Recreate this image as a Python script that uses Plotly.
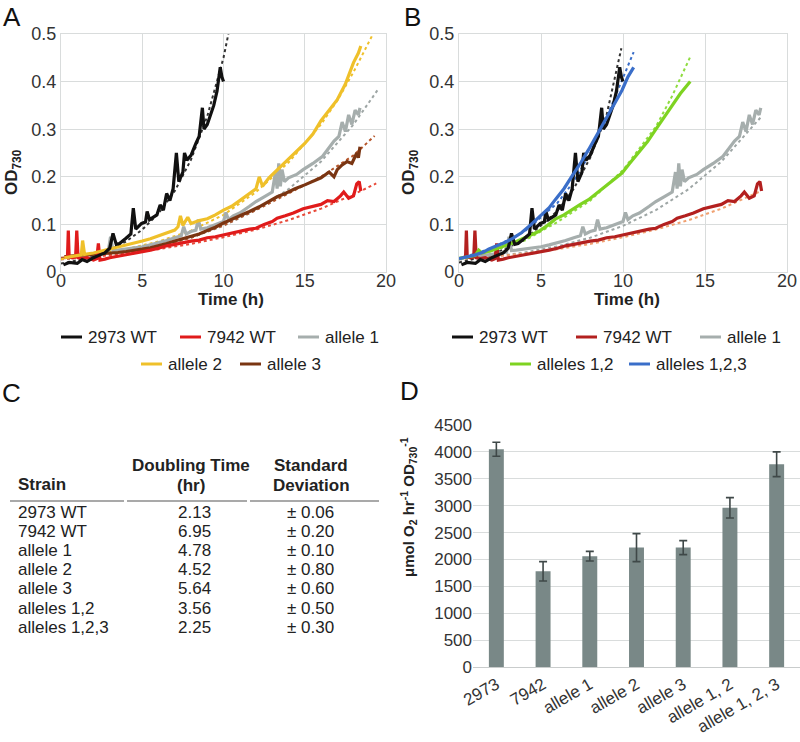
import plotly.graph_objects as go

W, H = 800, 742
FONT = "Liberation Sans, Arial, sans-serif"

# ---------------- growth curve data (time h, OD730) ----------------
t_2973 = [0.15,0.5,1.0,1.3,1.6,2.0,2.4,2.7,3.0,3.2,3.4,3.6,4.0,4.3,4.45,4.6,4.96,5.2,5.3,5.45,5.9,6.1,6.3,6.5,6.7,
          6.9,7.1,7.25,7.5,7.6,7.75,8.0,8.3,8.5,8.7,8.8,9.0,9.2,9.4,9.6,9.8,9.9,10.0]
od_2973 = [0.015,0.02,0.018,0.026,0.022,0.03,0.036,0.04,0.05,0.081,0.058,0.06,0.071,0.08,0.134,0.09,0.102,0.105,0.127,0.11,
           0.12,0.141,0.13,0.165,0.15,0.175,0.25,0.19,0.21,0.25,0.235,0.245,0.27,0.285,0.345,0.3,0.31,0.33,0.35,0.38,0.43,0.41,0.4]

t_7942 = [0.2,0.4,0.45,0.5,0.7,0.9,0.97,1.05,1.3,1.6,2.0,2.2,2.3,2.4,2.7,3.0,3.5,4.0,4.5,5.0,5.5,6.0,6.5,7.0,7.5,8.0,8.5,
          9.0,9.5,10.0,10.5,11.0,11.6,12.0,12.5,13.0,13.3,13.8,14.3,14.9,15.5,16.0,16.4,16.8,17.2,17.4,17.7,18.0,18.2,18.35,18.45]
od_7942 = [0.03,0.032,0.087,0.032,0.03,0.032,0.087,0.03,0.028,0.03,0.025,0.028,0.06,0.025,0.027,0.03,0.033,0.036,0.04,0.042,
           0.046,0.05,0.055,0.058,0.062,0.065,0.067,0.072,0.074,0.078,0.082,0.086,0.09,0.092,0.1,0.106,0.113,0.118,0.124,0.133,
           0.138,0.142,0.15,0.148,0.16,0.168,0.155,0.16,0.185,0.19,0.17]

t_a1 = [0.2,0.6,1.0,1.5,2.0,2.5,2.9,3.05,3.2,3.5,4.0,4.5,5.0,5.5,6.0,6.5,7.0,7.4,7.55,7.7,8.0,8.3,8.45,8.6,9.0,9.5,10.0,
        10.15,10.3,10.6,11.0,11.6,12.0,12.5,13.0,13.2,13.3,13.4,13.5,13.6,13.75,14.0,14.5,14.9,15.5,16.1,16.5,16.8,17.1,
        17.3,17.5,17.7,17.9,18.1,18.3,18.4]
od_a1 = [0.03,0.032,0.033,0.035,0.037,0.04,0.042,0.074,0.045,0.046,0.048,0.05,0.053,0.057,0.061,0.066,0.072,0.076,0.095,
         0.08,0.085,0.088,0.11,0.09,0.093,0.1,0.106,0.125,0.11,0.118,0.124,0.138,0.148,0.158,0.168,0.21,0.175,0.228,0.18,
         0.215,0.19,0.198,0.205,0.215,0.228,0.243,0.26,0.275,0.285,0.315,0.295,0.33,0.31,0.34,0.33,0.345]

t_a2 = [0.2,0.6,1.0,1.25,1.33,1.45,2.0,2.5,3.0,3.5,4.0,4.5,5.0,5.5,6.0,6.5,7.0,7.2,7.35,7.5,7.8,8.0,8.5,9.0,9.5,10.0,
        10.5,11.0,11.6,12.0,12.2,12.4,12.8,13.3,13.8,14.3,15.0,15.5,16.0,16.5,17.0,17.5,18.0,18.3,18.45]
od_a2 = [0.03,0.032,0.034,0.036,0.066,0.037,0.04,0.044,0.048,0.052,0.056,0.06,0.065,0.07,0.076,0.082,0.088,0.095,0.118,
         0.098,0.115,0.102,0.108,0.112,0.12,0.13,0.138,0.15,0.165,0.175,0.2,0.18,0.198,0.214,0.232,0.248,0.27,0.29,0.318,
         0.34,0.362,0.395,0.44,0.46,0.475]

t_a3 = [0.2,0.6,1.0,1.5,2.0,2.5,3.0,3.5,4.0,4.5,5.0,5.5,6.0,6.5,7.0,7.5,8.0,8.5,9.0,9.5,10.0,10.5,11.0,11.6,12.2,12.7,
        13.3,13.8,14.4,15.0,15.5,16.0,16.5,16.8,17.0,17.3,17.6,17.9,18.2,18.3,18.4]
od_a3 = [0.032,0.034,0.035,0.036,0.037,0.038,0.04,0.041,0.043,0.045,0.048,0.051,0.055,0.06,0.065,0.07,0.075,0.08,0.087,
         0.094,0.103,0.11,0.118,0.127,0.137,0.147,0.158,0.165,0.175,0.183,0.19,0.198,0.21,0.2,0.215,0.225,0.232,0.228,
         0.25,0.24,0.263]

t_a12 = [0.0,0.5,1.0,1.2,1.4,2.0,2.5,3.0,3.5,3.83,4.3,4.85,5.4,5.87,6.4,6.88,7.4,7.9,8.4,8.92,9.4,9.94,10.4,10.95,11.5,
         11.97,12.5,13.0,13.5,14.1]
od_a12 = [0.028,0.032,0.035,0.046,0.04,0.045,0.052,0.058,0.064,0.069,0.076,0.085,0.098,0.111,0.12,0.131,0.142,0.152,0.166,
          0.18,0.193,0.208,0.228,0.25,0.274,0.298,0.325,0.35,0.375,0.4]

t_a123 = [0.0,0.5,1.0,1.5,1.8,2.3,2.8,3.3,3.83,4.4,5.05,5.5,5.87,6.4,6.88,7.4,7.9,8.4,8.92,9.4,9.94,10.3,10.65]
od_a123 = [0.028,0.032,0.036,0.042,0.048,0.055,0.062,0.071,0.083,0.1,0.121,0.135,0.152,0.175,0.201,0.228,0.257,0.288,
           0.319,0.35,0.382,0.41,0.43]

# ---------------- exponential trend lines ----------------
tr_t_2973A = [0,1,2,3,4,5,6,7,8,9,10,10.3]
tr_od_2973A = [0.018,0.024,0.033,0.046,0.064,0.089,0.123,0.17,0.236,0.327,0.45,0.5]
tr_t_7942 = [0,2,4,6,8,10,12,14,16,18,19.4]
tr_od_7942 = [0.027,0.032,0.039,0.048,0.059,0.073,0.089,0.109,0.133,0.163,0.186]
tr_t_a1 = [0,2,4,6,8,10,12,14,16,18,19.5]
tr_od_a1 = [0.026,0.032,0.041,0.054,0.072,0.097,0.13,0.174,0.232,0.31,0.383]
tr_t_a2 = [0,2,4,6,8,10,12,14,16,17,18,19.2]
tr_od_a2 = [0.027,0.036,0.048,0.064,0.087,0.12,0.168,0.23,0.31,0.36,0.42,0.5]
tr_t_a3 = [0,2,4,6,8,10,12,14,16,18,19.3]
tr_od_a3 = [0.03,0.034,0.042,0.053,0.072,0.098,0.13,0.165,0.2,0.245,0.286]

tr_t_2973B = [0,2,4,6,7,8,9,9.9]
tr_od_2973B = [0.02,0.036,0.068,0.128,0.175,0.24,0.33,0.47]
tr_t_7942B = [0,2,4,6,8,10,12,14,16,18,18.4]
tr_od_7942B = [0.027,0.032,0.039,0.048,0.059,0.073,0.089,0.109,0.133,0.163,0.17]
tr_t_a1B = [0,2,4,6,8,10,12,14,16,18,18.4]
tr_od_a1B = [0.026,0.032,0.041,0.054,0.072,0.097,0.13,0.174,0.232,0.31,0.325]
tr_t_a12 = [0,2,4,6,8,10,12,13,14.1]
tr_od_a12 = [0.03,0.044,0.066,0.105,0.15,0.214,0.305,0.37,0.452]
tr_t_a123 = [0,2,4,6,7,8,9,10,10.65]
tr_od_a123 = [0.028,0.05,0.085,0.145,0.19,0.25,0.325,0.41,0.462]

# ---------------- table C ----------------
tbl_strains = ["2973 WT", "7942 WT", "allele 1", "allele 2", "allele 3", "alleles 1,2", "alleles 1,2,3"]
tbl_doubling = ["2.13", "6.95", "4.78", "4.52", "5.64", "3.56", "2.25"]
tbl_sd = ["0.06", "0.20", "0.10", "0.80", "0.60", "0.50", "0.30"]

# ---------------- panel D ----------------
d_cats = ["2973", "7942", "allele 1", "allele 2", "allele 3", "allele 1, 2", "allele 1, 2, 3"]
d_vals = [4050, 1780, 2060, 2220, 2220, 2960, 3770]
d_err = [130, 180, 90, 260, 130, 190, 230]

# colours
C_BLACK = "#111111"
C_RED_A = "#e01b1b"
C_RED_B = "#b3201f"
C_GRAY = "#a6aead"
C_YEL = "#efc02a"
C_BROWN = "#7a3512"
C_GREEN = "#7ed321"
C_BLUE = "#3a6ec9"

def px_x(p):
    return p / W

def px_y(p):
    return 1 - p / H

fig = go.Figure()

def add_line(x, y, color, xa, ya, width=3.2, dash=None):
    fig.add_trace(go.Scatter(x=x, y=y, mode="lines", xaxis=xa, yaxis=ya, showlegend=False, hoverinfo="skip",
                             line=dict(color=color, width=width, dash=dash or "solid")))

# Panel A: trends then data
add_line(tr_t_a1, tr_od_a1, "#9ea6a5", "x", "y", 2, "dot")
add_line(tr_t_a3, tr_od_a3, "#b5552a", "x", "y", 2, "dot")
add_line(tr_t_7942, tr_od_7942, "#e84a3a", "x", "y", 2, "dot")
add_line(tr_t_a2, tr_od_a2, "#efc02a", "x", "y", 2, "dot")
add_line(tr_t_2973A, tr_od_2973A, "#333333", "x", "y", 2, "dot")
add_line(t_a1, od_a1, C_GRAY, "x", "y")
add_line(t_a3, od_a3, C_BROWN, "x", "y")
add_line(t_7942, od_7942, C_RED_A, "x", "y")
add_line(t_a2, od_a2, C_YEL, "x", "y")
add_line(t_2973, od_2973, C_BLACK, "x", "y")

# Panel B
add_line(tr_t_a1B, tr_od_a1B, "#9ea6a5", "x2", "y2", 2, "dot")
add_line(tr_t_7942B, tr_od_7942B, "#f0a070", "x2", "y2", 2, "dot")
add_line(tr_t_a12, tr_od_a12, "#8fdc40", "x2", "y2", 2, "dot")
add_line(tr_t_a123, tr_od_a123, C_BLUE, "x2", "y2", 2, "dot")
add_line(tr_t_2973B, tr_od_2973B, "#333333", "x2", "y2", 2, "dot")
add_line(t_a1, od_a1, C_GRAY, "x2", "y2")
add_line(t_7942, od_7942, C_RED_B, "x2", "y2")
add_line(t_a12, od_a12, C_GREEN, "x2", "y2")
add_line(t_2973, od_2973, C_BLACK, "x2", "y2")
add_line(t_a123, od_a123, C_BLUE, "x2", "y2")

# Panel D bars
fig.add_trace(go.Bar(x=d_cats, y=d_vals, xaxis="x3", yaxis="y3", showlegend=False, hoverinfo="skip",
                     marker=dict(color="#798887", line=dict(width=0)),
                     error_y=dict(type="data", array=d_err, visible=True, color="#3f4848", thickness=1.6, width=4)))

grid = "#d9dcdc"
tickfont = dict(family=FONT, size=18, color="#333333")
line_ax = dict(showgrid=True, gridcolor=grid, gridwidth=1.3, showline=True, linecolor=grid, linewidth=1.3,
               mirror=True, zeroline=False, ticks="", ticklen=0, tickfont=tickfont, automargin=False)

ydomA = [px_y(272), px_y(34)]
fig.update_layout(
    width=W, height=H, margin=dict(l=0, r=0, t=0, b=0, autoexpand=False),
    paper_bgcolor="white", plot_bgcolor="white", bargap=0.68,
    xaxis=dict(domain=[px_x(61), px_x(386)], range=[0, 20], dtick=5, anchor="y", ticklabelstandoff=-8, **line_ax),
    yaxis=dict(domain=ydomA, range=[0, 0.5], dtick=0.1, anchor="x", tickformat="~g", **line_ax),
    xaxis2=dict(domain=[px_x(459), px_x(787)], range=[0, 20], dtick=5, anchor="y2", ticklabelstandoff=-8, **line_ax),
    yaxis2=dict(domain=ydomA, range=[0, 0.5], dtick=0.1, anchor="x2", tickformat="~g", **line_ax),
    xaxis3=dict(domain=[px_x(473), px_x(800)], anchor="y3", showgrid=False, showline=True, linecolor="#c9cccc",
                linewidth=1.3, ticks="", ticklen=0, tickangle=-30, automargin=False,
                tickfont=dict(family=FONT, size=17, color="#333333")),
    yaxis3=dict(domain=[px_y(667), px_y(425)], range=[0, 4500], dtick=500, anchor="x3", showgrid=True,
                gridcolor=grid, gridwidth=1.3, showline=False, zeroline=False, ticks="", ticklen=0, automargin=False,
                tickfont=dict(family=FONT, size=17, color="#333333")),
)

ann = []
def text(x, y, s, size=17, bold=False, xanchor="center", yanchor="middle", angle=0, color="#222222"):
    if bold:
        s = "<b>" + s + "</b>"
    ann.append(dict(x=px_x(x), y=px_y(y), xref="paper", yref="paper", text=s, showarrow=False,
                    xanchor=xanchor, yanchor=yanchor, textangle=angle,
                    font=dict(family=FONT, size=size, color=color)))

# panel letters
text(12, 17, "A", size=26, color="#111111")
text(412, 17, "B", size=26, color="#111111")
text(11, 393, "C", size=26, color="#111111")
text(410, 391, "D", size=26, color="#111111")

# axis titles
text(231, 299, "Time (h)", size=17, bold=True)
text(627, 299, "Time (h)", size=17, bold=True)
text(13, 172, "OD<sub>730</sub>", size=17, bold=True, angle=-90)
text(410, 172, "OD<sub>730</sub>", size=17, bold=True, angle=-90)
text(408, 507, "μmol O<sub>2</sub> hr<sup>-1</sup> OD<sub>730</sub><sup>-1</sup>", size=15, bold=True, angle=-90)

shapes = []
def legend_item(x0, y, color, label):
    shapes.append(dict(type="line", xref="paper", yref="paper", x0=px_x(x0), x1=px_x(x0 + 21),
                       y0=px_y(y), y1=px_y(y), line=dict(color=color, width=3)))
    text(x0 + 25, y, label, size=17, xanchor="left", color="#222222")

# legend A
legend_item(61, 337, C_BLACK, "2973 WT")
legend_item(180, 337, C_RED_A, "7942 WT")
legend_item(298, 337, C_GRAY, "allele 1")
legend_item(141, 364, C_YEL, "allele 2")
legend_item(240, 364, C_BROWN, "allele 3")
# legend B
legend_item(452, 337, C_BLACK, "2973 WT")
legend_item(576, 337, C_RED_B, "7942 WT")
legend_item(700, 337, C_GRAY, "allele 1")
legend_item(510, 364, C_GREEN, "alleles 1,2")
legend_item(629, 364, C_BLUE, "alleles 1,2,3")

# table C
text(16, 484, "Strain", size=17, bold=True, xanchor="left")
text(191, 465, "Doubling Time", size=17, bold=True)
text(191, 485, "(hr)", size=17, bold=True)
text(311, 465, "Standard", size=17, bold=True)
text(311, 485, "Deviation", size=17, bold=True)
for x0, x1 in [(10, 124), (127, 247), (250, 379)]:
    shapes.append(dict(type="line", xref="paper", yref="paper", x0=px_x(x0), x1=px_x(x1),
                       y0=px_y(501), y1=px_y(501), line=dict(color="#8c8c8c", width=1.5)))
for i, (s, d, sd) in enumerate(zip(tbl_strains, tbl_doubling, tbl_sd)):
    yy = 512 + i * 19.2
    text(16, yy, s, size=17, xanchor="left")
    text(194, yy, d, size=17)
    text(310, yy, "± " + sd, size=17)

fig.update_layout(annotations=ann, shapes=shapes)
fig.write_html("out.html", config={"displayModeBar": False},
               post_script="document.body.style.margin='0px';document.body.style.overflow='hidden';")
